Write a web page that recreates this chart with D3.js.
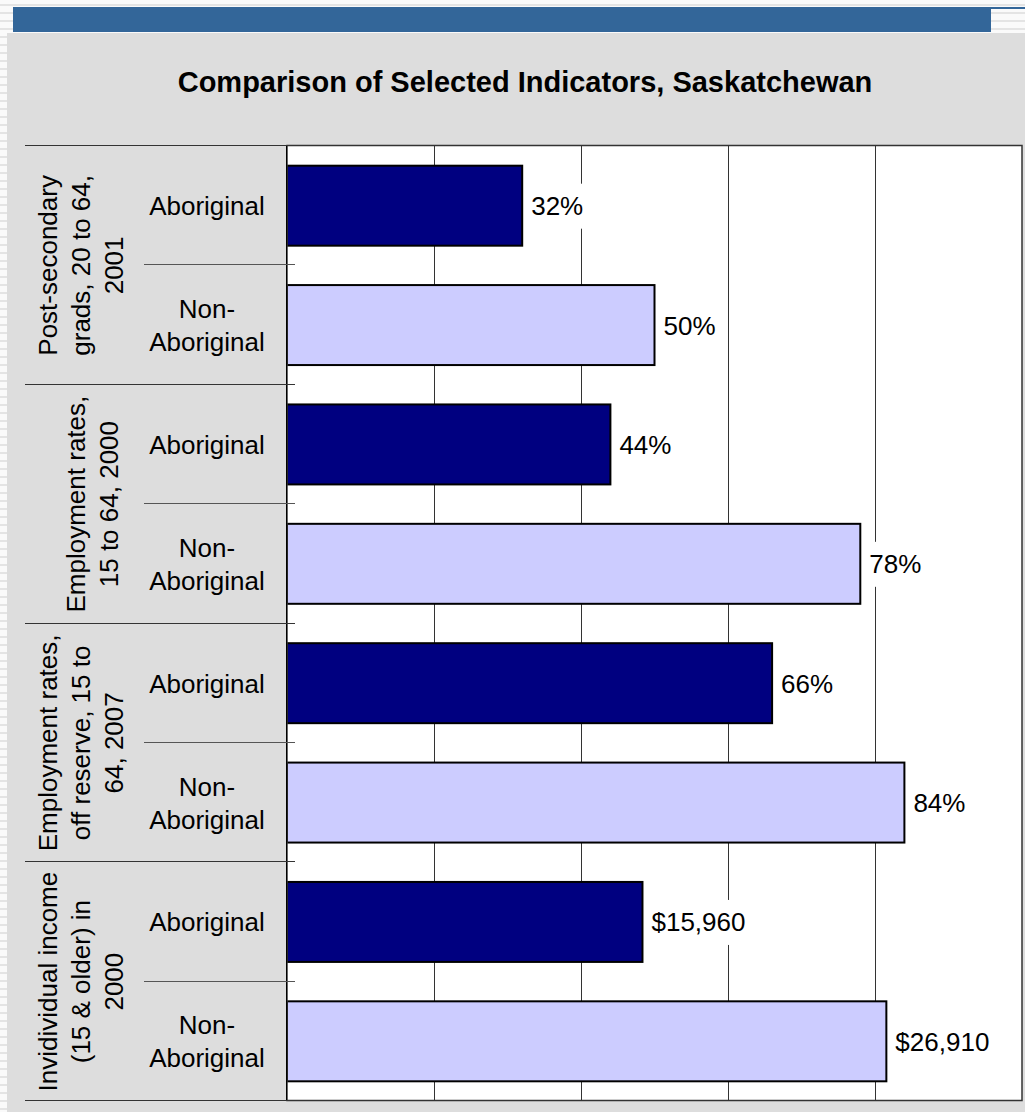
<!DOCTYPE html>
<html>
<head>
<meta charset="utf-8">
<script src="https://cdn.jsdelivr.net/npm/d3@7"></script>
<style>
  body { margin: 0; background: #fff; }
  svg { display: block; font-family: Arial, "Liberation Sans", sans-serif; }
</style>
</head>
<body>
<div id="chart"></div>
<script>
const title = "Comparison of Selected Indicators, Saskatchewan";
const groupLabels = [
  ["Post-secondary", "grads, 20 to 64,", "2001"],
  ["Employment rates,", "15 to 64, 2000"],
  ["Employment rates,", "off reserve, 15 to", "64, 2007"],
  ["Invidividual income", "(15 & older) in", "2000"]
];
const categories = ["Aboriginal", "Non-Aboriginal"];
const percentValues = [32, 50, 44, 78, 66, 84];
const incomeValues = [15960, 26910];
const percentTicks = [0, 20, 40, 60, 80, 100];

const width = 1025, height = 1112;
const plot = { left: 287, right: 1022, top: 146, bottom: 1101 };

// one row per bar
const rows = [];
groupLabels.forEach(function (g, gi) {
  categories.forEach(function (c, ci) {
    const i = gi * 2 + ci;
    if (gi < 3) {
      rows.push({ id: i, cat: c, value: percentValues[i], kind: "pct", label: percentValues[i] + "%" });
    } else {
      rows.push({ id: i, cat: c, value: incomeValues[ci], kind: "inc", label: "$" + d3.format(",")(incomeValues[ci]) });
    }
  });
});

const x = d3.scaleLinear().domain([0, 100]).range([plot.left, plot.right]);
const xIncome = d3.scaleLinear().domain([0, 33000]).range([plot.left, plot.right]);
const y = d3.scaleBand()
  .domain(rows.map(function (d) { return d.id; }))
  .range([plot.top, plot.bottom])
  .paddingInner(0.33)
  .paddingOuter(0.165);
const step = y.step();

const svg = d3.select("#chart").append("svg")
  .attr("width", width)
  .attr("height", height);

// striped page background
const defs = svg.append("defs");
const pat = defs.append("pattern")
  .attr("id", "stripes")
  .attr("patternUnits", "userSpaceOnUse")
  .attr("width", 8).attr("height", 8);
pat.append("rect").attr("width", 8).attr("height", 8).attr("fill", "#fafafa");
pat.append("rect").attr("y", 4).attr("width", 8).attr("height", 2).attr("fill", "#e4e4e4");

svg.append("rect").attr("width", width).attr("height", height).attr("fill", "url(#stripes)");

// header band
svg.append("rect").attr("x", 13).attr("y", 7).attr("width", 978).attr("height", 25).attr("fill", "#336699");
svg.append("rect").attr("x", 13).attr("y", 7).attr("width", width - 13).attr("height", 2).attr("fill", "#336699");

// gray panel
svg.append("rect").attr("x", 7).attr("y", 33).attr("width", width - 7).attr("height", height - 33).attr("fill", "#dddddd");

svg.append("text")
  .attr("x", 525)
  .attr("y", 92)
  .attr("text-anchor", "middle")
  .attr("font-size", 29)
  .attr("font-weight", "bold")
  .attr("fill", "#000")
  .text(title);

// plot area
svg.append("rect")
  .attr("x", plot.left).attr("y", plot.top)
  .attr("width", plot.right - plot.left).attr("height", plot.bottom - plot.top)
  .attr("fill", "#fff");

// vertical gridlines
svg.append("g").selectAll("line")
  .data(percentTicks.slice(1, -1))
  .enter().append("line")
  .attr("x1", function (d) { return Math.round(x(d)) + 0.5; })
  .attr("x2", function (d) { return Math.round(x(d)) + 0.5; })
  .attr("y1", plot.top)
  .attr("y2", plot.bottom)
  .attr("stroke", "#333")
  .attr("stroke-width", 1);

// bars
svg.append("g").selectAll("rect")
  .data(rows)
  .enter().append("rect")
  .attr("x", plot.left)
  .attr("y", function (d) { return y(d.id); })
  .attr("width", function (d) { return (d.kind === "pct" ? x(d.value) : xIncome(d.value)) - plot.left; })
  .attr("height", y.bandwidth())
  .attr("fill", function (d) { return d.cat === "Aboriginal" ? "#000080" : "#ccccff"; })
  .attr("stroke", "#000")
  .attr("stroke-width", 2);

// value labels with white boxes
const labels = svg.append("g").selectAll("g")
  .data(rows)
  .enter().append("g")
  .attr("transform", function (d) {
    const xe = d.kind === "pct" ? x(d.value) : xIncome(d.value);
    return "translate(" + (xe + 9) + "," + (y(d.id) + y.bandwidth() / 2) + ")";
  });
labels.append("rect")
  .attr("x", -6)
  .attr("y", -22)
  .attr("height", 45)
  .attr("fill", "#fff");
labels.append("text")
  .attr("y", 9.5)
  .attr("font-size", 26)
  .attr("fill", "#000")
  .text(function (d) { return d.label; });
labels.each(function () {
  const g = d3.select(this);
  const w = g.select("text").node().getComputedTextLength();
  g.select("rect").attr("width", w + 11);
});

// plot border and axis
svg.append("rect")
  .attr("x", plot.left).attr("y", plot.top - 0.5)
  .attr("width", plot.right - plot.left).attr("height", plot.bottom - plot.top)
  .attr("fill", "none")
  .attr("stroke", "#333")
  .attr("stroke-width", 1.5);
svg.append("line")
  .attr("x1", plot.left - 0.5).attr("x2", plot.left - 0.5)
  .attr("y1", plot.top).attr("y2", plot.bottom)
  .attr("stroke", "#000");

// category divider lines
const axisG = svg.append("g");
d3.range(groupLabels.length + 1).forEach(function (k) {
  const yy = Math.round(plot.top + k * 2 * step) - 0.5;
  axisG.append("line")
    .attr("x1", 25).attr("x2", 295)
    .attr("y1", yy).attr("y2", yy)
    .attr("stroke", "#333").attr("stroke-width", 1.2);
});
d3.range(groupLabels.length).forEach(function (k) {
  const yy = Math.round(plot.top + (k * 2 + 1) * step) - 0.5;
  axisG.append("line")
    .attr("x1", 144).attr("x2", 295)
    .attr("y1", yy).attr("y2", yy)
    .attr("stroke", "#555").attr("stroke-width", 1.2);
});

// category labels
const catLabels = svg.append("g").selectAll("text")
  .data(rows)
  .enter().append("text")
  .attr("x", 207)
  .attr("y", function (d) { return y(d.id) + y.bandwidth() / 2 + 9.5; })
  .attr("text-anchor", "middle")
  .attr("font-size", 26)
  .attr("fill", "#000");
catLabels.each(function (d) {
  const t = d3.select(this);
  if (d.cat === "Aboriginal") {
    t.text(d.cat);
  } else {
    t.append("tspan").attr("x", 207).attr("dy", -16.5).text("Non-");
    t.append("tspan").attr("x", 207).attr("dy", 33).text("Aboriginal");
  }
});

// rotated group labels
groupLabels.forEach(function (lines, gi) {
  const cy = plot.top + (gi * 2 + 1) * step;
  const last = lines.length === 2 ? 118 : 123;
  const t = svg.append("text")
    .attr("transform", "translate(0," + cy + ") rotate(-90)")
    .attr("text-anchor", "middle")
    .attr("font-size", 26)
    .attr("fill", "#000");
  lines.forEach(function (line, li) {
    t.append("tspan")
      .attr("x", 0)
      .attr("y", last - (lines.length - 1 - li) * 33)
      .text(line);
  });
});
</script>
</body>
</html>
